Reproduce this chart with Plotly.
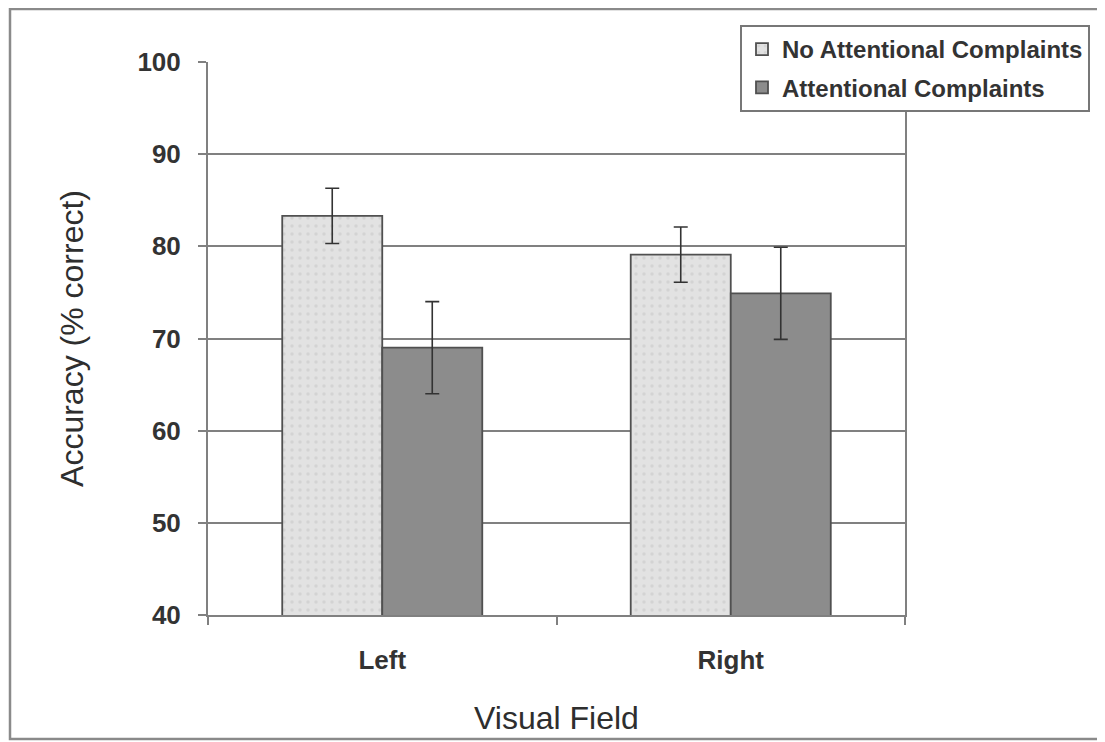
import plotly.graph_objects as go

categories = ["Left", "Right"]
series_names = ["No Attentional Complaints", "Attentional Complaints"]
no_complaints = [83.3, 79.1]
no_complaints_err = [3.0, 3.0]
complaints = [69.0, 74.9]
complaints_err = [5.0, 5.0]
y_ticks = [40, 50, 60, 70, 80, 90, 100]

# page offset: the browser body adds an 8px margin
OFF = 8
W, H = 1105 - OFF, 742 - OFF
L, R, T, B = 208 - OFF, 905 - OFF, 62 - OFF, 615 - OFF

TXT = "#333333"
FONT = "Arial, Liberation Sans, sans-serif"

fig = go.Figure()
fig.add_trace(go.Bar(
    x=categories, y=no_complaints, name=series_names[0], legendgroup="a",
    marker=dict(color="#dedede", line=dict(color="#505050", width=1.8),
                pattern=dict(shape=".", fgcolor="#c4c4c4", bgcolor="#e2e2e2", size=8, solidity=0.15)),
    error_y=dict(type="data", array=no_complaints_err, color="#333333", thickness=1.6, width=7),
))
fig.add_trace(go.Bar(
    x=categories, y=complaints, name=series_names[1], legendgroup="b",
    marker=dict(color="#8c8c8c", line=dict(color="#505050", width=1.8)),
    error_y=dict(type="data", array=complaints_err, color="#333333", thickness=1.6, width=7),
))

def px(xp):
    return (xp - OFF - L) / (R - L)

def py(yp):
    return (B - (yp - OFF)) / (B - T)

fig.add_shape(type="rect", xref="paper", yref="paper",
              x0=px(10), x1=px(1102), y0=py(739), y1=py(9),
              line=dict(color="#8a8a8a", width=2.5), layer="below")

fig.update_layout(
    width=W, height=H,
    margin=dict(l=L, r=W - R, t=T, b=H - B, pad=0),
    paper_bgcolor="white", plot_bgcolor="white",
    barmode="group", bargap=0.426, bargroupgap=0,
    font=dict(family=FONT, color=TXT),
    showlegend=True,
    legend=dict(x=px(740), y=py(25), xanchor="left", yanchor="top",
                bgcolor="white", bordercolor="#777777", borderwidth=2,
                font=dict(size=24, family=FONT, color=TXT, weight="bold"),
                itemwidth=30, tracegroupgap=4),
    xaxis=dict(
        title=dict(text="Visual Field", font=dict(size=32, color="#2e2e2e"), standoff=32),
        tickfont=dict(size=26, color=TXT, weight="bold"),
        showline=True, linecolor="#808080", linewidth=2,
        ticks="outside", tickson="boundaries", ticklen=8, tickcolor="#808080", tickwidth=2,
        ticklabelstandoff=21,
    ),
    yaxis=dict(
        title=dict(text="Accuracy (% correct)", font=dict(size=32, color="#2e2e2e"), standoff=44),
        range=[40, 100], tickvals=y_ticks,
        tickfont=dict(size=26, color=TXT, weight="bold"),
        showgrid=True, gridcolor="#808080", gridwidth=2,
        showline=True, linecolor="#808080", linewidth=2, mirror=True,
        ticks="outside", ticklen=8, tickcolor="#808080", tickwidth=2,
        ticklabelstandoff=12, zeroline=False,
    ),
)

fig.write_html("out.html")
